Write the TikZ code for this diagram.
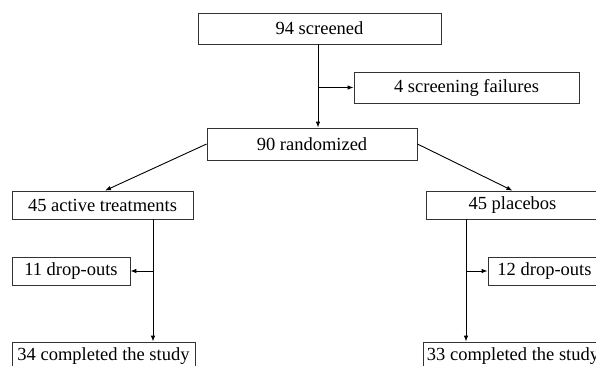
\documentclass[tikz,border=0pt]{standalone}
\usepackage{fontspec}
\setmainfont{Liberation Serif}
\usepackage{tikz}
\usetikzlibrary{arrows.meta,positioning,calc}

\begin{document}
\begin{tikzpicture}[
    x=1pt, y=-1pt,
    stage/.style={rectangle, draw=black!80, line width=0.8pt, inner sep=0pt, font=\fontsize{18.5}{22}\selectfont},
    arrow/.style={-{Latex[length=6pt,width=4.5pt]}, line width=0.9pt}
]
\clip (0,0) rectangle (596,366);

\node[stage, minimum width=243, minimum height=31] (screened) at (319.5,28.5) {94 screened};
\node[stage, minimum width=225, minimum height=31] (fail) at (466.5,87.5) {4 screening failures};
\node[stage, minimum width=210, minimum height=32] (rand) at (312,144) {90 randomized};
\node[stage, minimum width=181, minimum height=28] (active) at (102.5,205) {45 active treatments};
\node[stage, minimum width=173, minimum height=28] (placebo) at (512.5,205) {45 placebos};
\node[stage, minimum width=118, minimum height=28] (drop11) at (71,271) {11 drop-outs};
\node[stage, minimum width=113, minimum height=28] (drop12) at (544.5,271) {12 drop-outs};
\node[stage, minimum width=183, minimum height=28] (done34) at (103.5,356) {34 completed the study};
\node[stage, minimum width=180, minimum height=28] (done33) at (513,356) {33 completed the study};

\draw[arrow] ([xshift=-1.5]screened.south) -- ([xshift=-1.5]screened.south |- rand.north);
\draw[arrow] ([xshift=-1.5]screened.south |- fail.west) -- (fail.west);
\draw[arrow] (rand.west) -- ([xshift=2.5]active.north);
\draw[arrow] (rand.east) -- (placebo.north);
\draw[arrow] ([xshift=50.5]active.south) -- ([xshift=50.5]active.south |- done34.north);
\draw[arrow] ([xshift=50.5]active.south |- drop11.east) -- (drop11.east);
\draw[arrow] ([xshift=-46.5]placebo.south) -- ([xshift=-46.5]placebo.south |- done33.north);
\draw[arrow] ([xshift=-46.5]placebo.south |- drop12.west) -- (drop12.west);

\end{tikzpicture}
\end{document}
